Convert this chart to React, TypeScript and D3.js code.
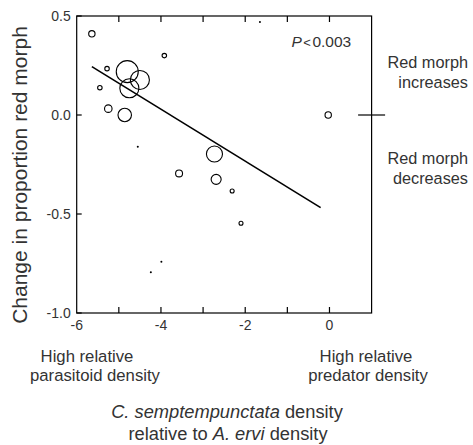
import React, { useEffect, useRef } from "react";
import * as d3 from "d3";

// points: relative density (x), change in proportion red morph (y), sample weight
const densityRatio = [-5.64, -5.28, -5.45, -5.25, -4.86, -4.8, -4.5, -4.75, -3.92, -4.55, -1.65, -0.03, -2.73, -3.57, -2.69, -2.31, -2.1, -3.99, -4.24];
const changeRed = [0.41, 0.234, 0.138, 0.032, 0.0, 0.219, 0.177, 0.135, 0.3, -0.16, 0.47, 0.0, -0.197, -0.295, -0.325, -0.384, -0.547, -0.741, -0.794];
const weights = [10, 5, 5, 14, 45, 120, 90, 90, 5, 1, 1, 10, 64, 12, 25, 4, 4, 1, 1];

// fitted regression line end points
const fitX = [-5.64, -0.21];
const fitY = [0.244, -0.468];

const xTickLabels = [-6, -4, -2, 0];
const xMinorTicks = [-5, -4, -3, -2, -1, 0];
const yTickLabels = [0.5, 0.0, -0.5, -1.0];

const App = () => {
  const ref = useRef<SVGSVGElement>(null);

  useEffect(() => {
    const width = 473;
    const height = 445;
    const m = { left: 76.7, right: 371.6, top: 16, bottom: 313 };
    const font = "'Liberation Sans', Arial, Helvetica, sans-serif";
    const ink = "#333";

    const svg = d3.select(ref.current)
      .attr("width", width)
      .attr("height", height)
      .style("font-family", font);
    svg.selectAll("*").remove();

    const x = d3.scaleLinear().domain([-6, 1]).range([m.left, m.right]);
    const y = d3.scaleLinear().domain([-1, 0.5]).range([m.bottom, m.top]);
    const r = d3.scaleSqrt().domain([0, 120]).range([0, 11]);

    // frame
    svg.append("rect")
      .attr("x", m.left).attr("y", m.top)
      .attr("width", m.right - m.left).attr("height", m.bottom - m.top)
      .attr("fill", "none").attr("stroke", "#000").attr("stroke-width", 1.2);

    const tickLen = 6;
    // inward ticks on top and bottom
    xMinorTicks.forEach(t => {
      svg.append("line")
        .attr("x1", x(t)).attr("x2", x(t))
        .attr("y1", m.top).attr("y2", m.top + tickLen)
        .attr("stroke", "#000").attr("stroke-width", 1.2);
      svg.append("line")
        .attr("x1", x(t)).attr("x2", x(t))
        .attr("y1", m.bottom).attr("y2", m.bottom - tickLen)
        .attr("stroke", "#000").attr("stroke-width", 1.2);
    });

    // left ticks (inward)
    yTickLabels.forEach(t => {
      svg.append("line")
        .attr("x1", m.left).attr("x2", m.left + 5)
        .attr("y1", y(t)).attr("y2", y(t))
        .attr("stroke", "#000").attr("stroke-width", 1.2);
    });

    // right axis: zero crossing tick
    svg.append("line")
      .attr("x1", m.right - 13.5).attr("x2", m.right + 13.5)
      .attr("y1", y(0)).attr("y2", y(0))
      .attr("stroke", "#000").attr("stroke-width", 1.2);

    // tick labels (plain hyphen minus, as in the figure)
    svg.selectAll(".xlab")
      .data(xTickLabels)
      .enter()
      .append("text")
      .attr("x", d => x(d))
      .attr("y", 330)
      .attr("text-anchor", "middle")
      .attr("font-size", 14)
      .attr("fill", ink)
      .text(d => String(d));

    svg.selectAll(".ylab")
      .data(yTickLabels)
      .enter()
      .append("text")
      .attr("x", m.left - 6)
      .attr("y", d => y(d) + 5)
      .attr("text-anchor", "end")
      .attr("font-size", 14)
      .attr("fill", ink)
      .text(d => d.toFixed(1));

    // regression line
    svg.append("line")
      .attr("x1", x(fitX[0])).attr("y1", y(fitY[0]))
      .attr("x2", x(fitX[1])).attr("y2", y(fitY[1]))
      .attr("stroke", "#000").attr("stroke-width", 1.6);

    // points
    svg.selectAll(".pt")
      .data(densityRatio.map((d, i) => ({ x: d, y: changeRed[i], w: weights[i] })))
      .enter()
      .append("circle")
      .attr("cx", d => x(d.x))
      .attr("cy", d => y(d.y))
      .attr("r", d => r(d.w))
      .attr("fill", d => (d.w <= 1 ? "#000" : "none"))
      .attr("stroke", "#000")
      .attr("stroke-width", d => (d.w <= 1 ? 0 : 1.1));

    // P value
    const p = svg.append("text")
      .attr("x", 291.5).attr("y", 46.5)
      .attr("font-size", 15.5).attr("fill", ink);
    p.append("tspan").attr("font-style", "italic").text("P");
    p.append("tspan").text("<").attr("font-size", 13).attr("dx", 1.5);
    p.append("tspan").text("0.003").attr("dx", 1.5);

    // y axis title
    svg.append("text")
      .attr("transform", `translate(26.5,175) rotate(-90)`)
      .attr("text-anchor", "middle")
      .attr("font-size", 21)
      .attr("fill", ink)
      .text("Change in proportion red morph");

    // right side notes
    const side = [
      { t: "Red morph", yy: 68 },
      { t: "increases", yy: 88 },
      { t: "Red morph", yy: 164 },
      { t: "decreases", yy: 183.5 },
    ];
    svg.selectAll(".side")
      .data(side)
      .enter()
      .append("text")
      .attr("x", 468)
      .attr("y", d => d.yy)
      .attr("text-anchor", "end")
      .attr("font-size", 16.3)
      .attr("fill", ink)
      .text(d => d.t);

    // bottom notes
    const notes = [
      { t: "High relative", cx: 87, yy: 361.7 },
      { t: "parasitoid density", cx: 95, yy: 381.2 },
      { t: "High relative", cx: 366, yy: 361.7 },
      { t: "predator density", cx: 368, yy: 381.2 },
    ];
    svg.selectAll(".note")
      .data(notes)
      .enter()
      .append("text")
      .attr("x", d => d.cx)
      .attr("y", d => d.yy)
      .attr("text-anchor", "middle")
      .attr("font-size", 16.7)
      .attr("fill", ink)
      .text(d => d.t);

    // x axis title
    const t1 = svg.append("text")
      .attr("x", 227).attr("y", 418.3)
      .attr("text-anchor", "middle")
      .attr("font-size", 18.3).attr("fill", ink);
    t1.append("tspan").attr("font-style", "italic").text("C. semptempunctata");
    t1.append("tspan").text(" density");

    const t2 = svg.append("text")
      .attr("x", 228).attr("y", 440)
      .attr("text-anchor", "middle")
      .attr("font-size", 18.3).attr("fill", ink);
    t2.append("tspan").text("relative to ");
    t2.append("tspan").attr("font-style", "italic").text("A. ervi");
    t2.append("tspan").text(" density");
  }, []);

  return <svg ref={ref} style={{ position: "absolute", left: 0, top: 0 }}></svg>;
};

export default App;
